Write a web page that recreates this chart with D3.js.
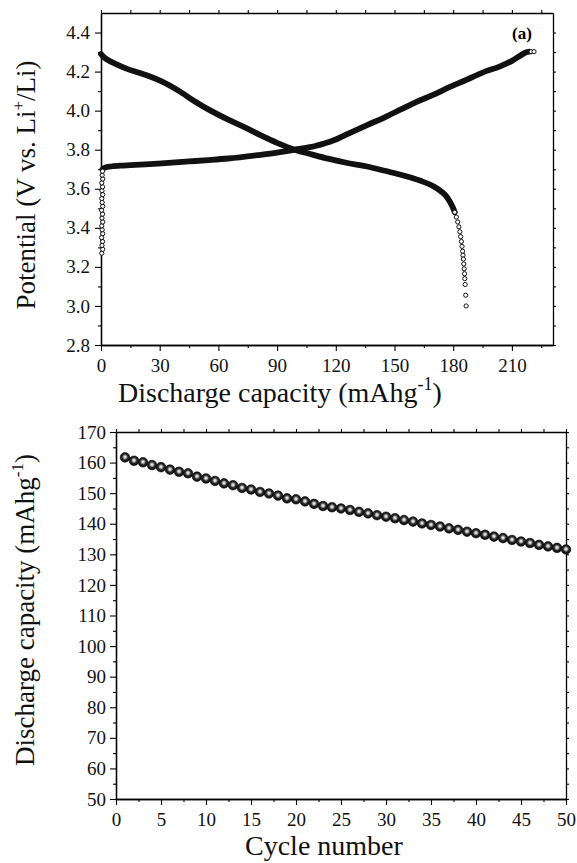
<!DOCTYPE html>
<html>
<head>
<meta charset="utf-8">
<script src="https://cdn.jsdelivr.net/npm/d3@7"></script>
<style>
  body { margin: 0; background: #fff; }
  svg { display: block; font-family: "Liberation Serif", "Times New Roman", serif; }
</style>
</head>
<body>
<svg id="chart" width="577" height="863"></svg>
<script>
// ---- (a) charge / discharge profiles ----
// first points of the charge, stacked at ~0 mAh/g
const chargeStartCap = [0.4, 0.9, 0.5, 0.8, 0.3, 0.9, 0.6, 0.4, 0.9, 0.5, 0.8, 0.3, 0.9, 0.6, 0.4, 0.9, 0.5, 0.8, 0.4, 0.9, 0.6, 0.8];
const chargeStartV = [3.27, 3.29, 3.31, 3.33, 3.35, 3.37, 3.39, 3.41, 3.43, 3.45, 3.47, 3.49, 3.51, 3.53, 3.55, 3.57, 3.59, 3.61, 3.63, 3.65, 3.67, 3.69];
// dense part of the charge curve
const chargeCap = [0.8, 2, 5, 10, 20, 31, 45, 55, 65, 80, 90, 99, 110, 116, 119, 127, 136, 145, 153, 161, 170, 178, 187, 195, 204, 210, 214, 217, 219];
const chargeV = [3.70, 3.708, 3.714, 3.718, 3.724, 3.73, 3.74, 3.747, 3.755, 3.772, 3.785, 3.80, 3.82, 3.838, 3.848, 3.885, 3.926, 3.966, 4.005, 4.044, 4.082, 4.12, 4.159, 4.195, 4.227, 4.255, 4.28, 4.298, 4.302];
const chargeEndCap = [219.8, 221.3];
const chargeEndV = [4.302, 4.302];
// dense part of the discharge curve
const dischargeCap = [0, 1, 3, 8, 13, 19, 25, 31, 40, 48, 56, 65, 74, 82, 90, 99, 108, 116, 126, 136, 145, 155, 163, 170, 174, 177, 178.5, 179.8, 180.8];
const dischargeV = [4.29, 4.278, 4.262, 4.237, 4.215, 4.195, 4.175, 4.15, 4.10, 4.047, 4.0, 3.954, 3.912, 3.872, 3.835, 3.80, 3.775, 3.754, 3.732, 3.714, 3.692, 3.667, 3.642, 3.612, 3.585, 3.555, 3.53, 3.505, 3.48];
// end of discharge, single open circles
const dischargeTailCap = [180.8, 181.6, 182.3, 182.9, 183.4, 183.8, 184.2, 184.5, 184.8, 185.0, 185.2, 185.4, 185.6, 185.8, 185.9, 186.1, 186.4, 186.6];
const dischargeTailV = [3.48, 3.455, 3.43, 3.405, 3.38, 3.355, 3.33, 3.305, 3.28, 3.26, 3.24, 3.215, 3.19, 3.165, 3.14, 3.11, 3.055, 3.0];

const capTicks = [0, 30, 60, 90, 120, 150, 180, 210];
const capMinor = [15, 45, 75, 105, 135, 165, 195, 225];
const potTicks = [2.8, 3.0, 3.2, 3.4, 3.6, 3.8, 4.0, 4.2, 4.4];
const potMinor = [2.9, 3.1, 3.3, 3.5, 3.7, 3.9, 4.1, 4.3];

// ---- (b) cycling ----
const cycles = [1, 2, 3, 4, 5, 6, 7, 8, 9, 10, 11, 12, 13, 14, 15, 16, 17, 18, 19, 20, 21, 22, 23, 24, 25,
  26, 27, 28, 29, 30, 31, 32, 33, 34, 35, 36, 37, 38, 39, 40, 41, 42, 43, 44, 45, 46, 47, 48, 49, 50];
const cycleCapacity = [161.7, 160.6, 160.1, 159.2, 158.5, 157.7, 157.0, 156.5, 155.4, 154.8, 154.0, 153.2, 152.6, 151.7, 151.2, 150.4, 149.9, 149.2, 148.3, 148.0, 147.3, 146.5, 145.8, 145.4, 145.0,
  144.5, 143.9, 143.4, 142.8, 142.3, 141.8, 141.2, 140.7, 140.1, 139.6, 139.1, 138.5, 138.0, 137.4, 136.9, 136.4, 135.8, 135.3, 134.7, 134.2, 133.7, 133.1, 132.6, 132.1, 131.6];

const cycleTicks = [0, 5, 10, 15, 20, 25, 30, 35, 40, 45, 50];
const cycleMinor = [2.5, 7.5, 12.5, 17.5, 22.5, 27.5, 32.5, 37.5, 42.5, 47.5];
const dcTicks = [50, 60, 70, 80, 90, 100, 110, 120, 130, 140, 150, 160, 170];
const dcMinor = [55, 65, 75, 85, 95, 105, 115, 125, 135, 145, 155, 165];

const FONT = '"Liberation Serif", "Times New Roman", serif';
const svg = d3.select("#chart");

// sphere look for the cycling markers
const grad = svg.append("defs").append("radialGradient")
  .attr("id", "ball").attr("cx", "50%").attr("cy", "46%").attr("r", "55%");
grad.append("stop").attr("offset", "0%").attr("stop-color", "#ffffff");
grad.append("stop").attr("offset", "22%").attr("stop-color", "#c8c8c8");
grad.append("stop").attr("offset", "55%").attr("stop-color", "#2a2a2a");
grad.append("stop").attr("offset", "100%").attr("stop-color", "#000");

function drawAxis(gen, tx, ty, labels) {
  const g = svg.append("g").attr("transform", `translate(${tx},${ty})`).call(gen);
  g.attr("font-family", FONT).attr("font-size", 19);
  g.select(".domain").attr("stroke", "#000").attr("stroke-width", 1.3);
  g.selectAll(".tick line").attr("stroke", "#000").attr("stroke-width", 1.1);
  g.selectAll(".tick text").attr("fill", "#111");
  if (!labels) g.selectAll(".tick text").remove();
  return g;
}

// ================= panel (a) =================
const boxA = { l: 101, r: 553, t: 13, b: 345 };
const x1 = d3.scaleLinear().domain([0, 231]).range([boxA.l, boxA.r]);
const y1 = d3.scaleLinear().domain([2.8, 4.5]).range([boxA.b, boxA.t]);

drawAxis(d3.axisBottom(x1).tickValues(capMinor).tickSize(3).tickSizeOuter(0), 0, boxA.b, false);
drawAxis(d3.axisBottom(x1).tickValues(capTicks).tickSize(6).tickPadding(8).tickSizeOuter(0).tickFormat(d3.format("d")), 0, boxA.b, true);
drawAxis(d3.axisTop(x1).tickValues(capTicks.concat(capMinor)).tickSize(3).tickSizeOuter(0), 0, boxA.t, false);
drawAxis(d3.axisLeft(y1).tickValues(potMinor).tickSize(3).tickSizeOuter(0), boxA.l, 0, false);
drawAxis(d3.axisLeft(y1).tickValues(potTicks).tickSize(6).tickPadding(5).tickSizeOuter(0).tickFormat(d3.format(".1f")), boxA.l, 0, true);
drawAxis(d3.axisRight(y1).tickValues(potTicks.concat(potMinor)).tickSize(3).tickSizeOuter(0), boxA.r, 0, false);

const line1 = d3.line().x(d => x1(d[0])).y(d => y1(d[1])).curve(d3.curveMonotoneX);
const thick = (cap, v) => svg.append("path")
  .datum(d3.zip(cap, v))
  .attr("d", line1)
  .attr("fill", "none")
  .attr("stroke", "#111")
  .attr("stroke-width", 5.8)
  .attr("stroke-linecap", "round");
thick(chargeCap, chargeV);
thick(dischargeCap, dischargeV);

const openDots = (cap, v) => svg.append("g").selectAll("circle")
  .data(d3.zip(cap, v)).join("circle")
  .attr("cx", d => x1(d[0])).attr("cy", d => y1(d[1]))
  .attr("r", 2.1).attr("fill", "#fff").attr("stroke", "#111").attr("stroke-width", 1);
openDots(chargeStartCap, chargeStartV);
openDots(dischargeTailCap, dischargeTailV);
openDots(chargeEndCap, chargeEndV);

svg.append("text").attr("x", 522).attr("y", 39).attr("text-anchor", "middle")
  .attr("font-family", FONT).attr("font-size", 17).attr("font-weight", "bold").text("(a)");

// axis titles (a)
const tA = svg.append("text").attr("x", 118).attr("y", 402)
  .attr("font-family", FONT).attr("font-size", 28).attr("fill", "#111");
tA.append("tspan").text("Discharge capacity (mAhg");
tA.append("tspan").attr("font-size", 18).attr("dy", -12).text("-1");
tA.append("tspan").attr("dy", 12).text(")");

const tP = svg.append("text").attr("transform", "translate(35,185) rotate(-90)")
  .attr("text-anchor", "middle").attr("font-family", FONT).attr("font-size", 27).attr("fill", "#111");
tP.append("tspan").text("Potential (V vs. Li");
tP.append("tspan").attr("font-size", 17).attr("dy", -11).text("+");
tP.append("tspan").attr("dy", 11).text("/Li)");

// ================= panel (b) =================
const boxB = { l: 116, r: 566, t: 432, b: 799 };
const x2 = d3.scaleLinear().domain([0, 50]).range([boxB.l, boxB.r]);
const y2 = d3.scaleLinear().domain([50, 170]).range([boxB.b, boxB.t]);

drawAxis(d3.axisBottom(x2).tickValues(cycleMinor).tickSize(3).tickSizeOuter(0), 0, boxB.b, false);
drawAxis(d3.axisBottom(x2).tickValues(cycleTicks).tickSize(6).tickPadding(8).tickSizeOuter(0).tickFormat(d3.format("d")), 0, boxB.b, true);
drawAxis(d3.axisTop(x2).tickValues(cycleTicks.concat(cycleMinor)).tickSize(3).tickSizeOuter(0), 0, boxB.t, false);
drawAxis(d3.axisLeft(y2).tickValues(dcMinor).tickSize(3).tickSizeOuter(0), boxB.l, 0, false);
drawAxis(d3.axisLeft(y2).tickValues(dcTicks).tickSize(6).tickPadding(4).tickSizeOuter(0).tickFormat(d3.format("d")), boxB.l, 0, true);
drawAxis(d3.axisRight(y2).tickValues(dcTicks.concat(dcMinor)).tickSize(3).tickSizeOuter(0), boxB.r, 0, false);

svg.append("g").selectAll("circle")
  .data(d3.zip(cycles, cycleCapacity)).join("circle")
  .attr("cx", d => x2(d[0])).attr("cy", d => y2(d[1]))
  .attr("r", 4.8).attr("fill", "url(#ball)").attr("stroke", "#000").attr("stroke-width", 0.6);

const tD = svg.append("text").attr("transform", "translate(34,610) rotate(-90)")
  .attr("text-anchor", "middle").attr("font-family", FONT).attr("font-size", 27).attr("fill", "#111");
tD.append("tspan").text("Discharge capacity (mAhg");
tD.append("tspan").attr("font-size", 17).attr("dy", -11).text("-1");
tD.append("tspan").attr("dy", 11).text(")");

svg.append("text").attr("x", 245).attr("y", 855)
  .attr("font-family", FONT).attr("font-size", 28).attr("fill", "#111").text("Cycle number");
</script>
</body>
</html>
